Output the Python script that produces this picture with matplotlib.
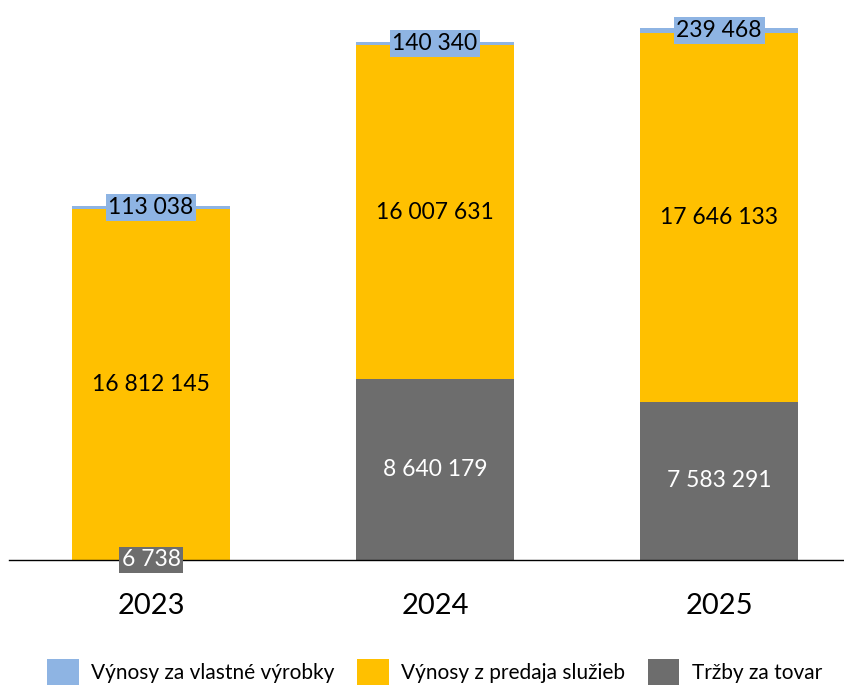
import matplotlib.pyplot as plt

years = ["2023", "2024", "2025"]
trzby_tovar = [6738, 8640179, 7583291]
sluzby = [16812145, 16007631, 17646133]
vyrobky = [113038, 140340, 239468]

c_blue = "#8EB4E3"
c_yellow = "#FFC000"
c_gray = "#6D6D6D"

plt.rcParams['font.family'] = ['Lato', 'DejaVu Sans']


def fmt(v):
    return f"{v:,}".replace(",", " ")


fig = plt.figure(figsize=(8.44, 6.91), dpi=100)
# axes extends a bit past the right edge, like the cropped original
ax = fig.add_axes([9 / 844, 131 / 691, 852 / 844, 560 / 691])

x = range(len(years))
w = 0.556
ax.bar(x, trzby_tovar, width=w, color=c_gray, label="Tržby za tovar")
ax.bar(x, sluzby, width=w, bottom=trzby_tovar, color=c_yellow, label="Výnosy z predaja služieb")
bottoms = [a + b for a, b in zip(trzby_tovar, sluzby)]
ax.bar(x, vyrobky, width=w, bottom=bottoms, color=c_blue, label="Výnosy za vlastné výrobky")

ax.set_xlim(-0.5, 2.5)
ax.set_ylim(0, 26.8e6)

fs = 16.5
for i in x:
    g = trzby_tovar[i]
    if g < 1e6:
        ax.text(i, g / 2, fmt(g), ha="center", va="center", color="white", fontsize=fs,
                bbox=dict(boxstyle="square,pad=0.12", fc=c_gray, ec="none"))
    else:
        ax.text(i, g / 2, fmt(g), ha="center", va="center", color="white", fontsize=fs)
    s = sluzby[i]
    ax.text(i, g + s / 2, fmt(s), ha="center", va="center", color="black", fontsize=fs)
    b = vyrobky[i]
    ax.text(i, bottoms[i] + b / 2, fmt(b), ha="center", va="center", color="black", fontsize=fs,
            bbox=dict(boxstyle="square,pad=0.12", fc=c_blue, ec="none"))

for sp in ["top", "left", "right"]:
    ax.spines[sp].set_visible(False)
ax.spines["bottom"].set_color("black")
ax.spines["bottom"].set_linewidth(1)
ax.set_yticks([])
ax.set_xticks(list(x))
ax.set_xticklabels(years, fontsize=21)
ax.tick_params(axis="x", length=0, pad=24)

handles, labels = ax.get_legend_handles_labels()
fig.legend(handles[::-1], labels[::-1], loc="lower center", ncol=3, frameon=False,
           bbox_to_anchor=(0.515, -0.018), fontsize=15, handlelength=1.5, handleheight=1.5,
           columnspacing=1.1, handletextpad=0.6)

fig.savefig("out.png", dpi=100)
